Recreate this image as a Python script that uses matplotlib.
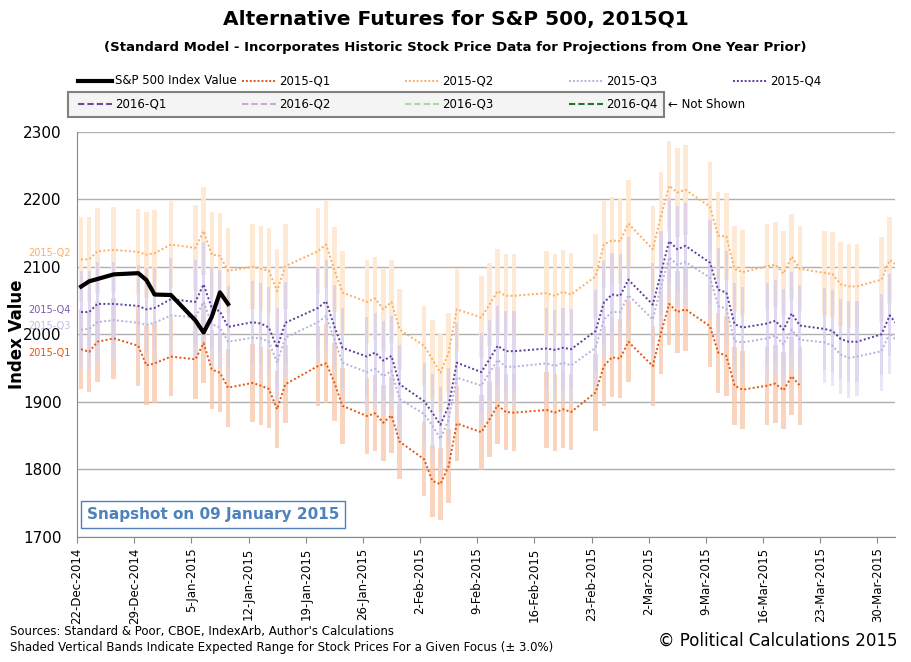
import datetime as dt
import matplotlib
matplotlib.use("Agg")
import matplotlib.pyplot as plt
import matplotlib.dates as mdates
from matplotlib.lines import Line2D
from matplotlib.patches import Rectangle

# =========================
# DATA
# =========================
trade_days = [
    "2014-12-22", "2014-12-23", "2014-12-24", "2014-12-26", "2014-12-29", "2014-12-30", "2014-12-31",
    "2015-01-02", "2015-01-05", "2015-01-06", "2015-01-07", "2015-01-08", "2015-01-09",
    "2015-01-12", "2015-01-13", "2015-01-14", "2015-01-15", "2015-01-16",
    "2015-01-20", "2015-01-21", "2015-01-22", "2015-01-23",
    "2015-01-26", "2015-01-27", "2015-01-28", "2015-01-29", "2015-01-30",
    "2015-02-02", "2015-02-03", "2015-02-04", "2015-02-05", "2015-02-06",
    "2015-02-09", "2015-02-10", "2015-02-11", "2015-02-12", "2015-02-13",
    "2015-02-17", "2015-02-18", "2015-02-19", "2015-02-20",
    "2015-02-23", "2015-02-24", "2015-02-25", "2015-02-26", "2015-02-27",
    "2015-03-02", "2015-03-03", "2015-03-04", "2015-03-05", "2015-03-06",
    "2015-03-09", "2015-03-10", "2015-03-11", "2015-03-12", "2015-03-13",
    "2015-03-16", "2015-03-17", "2015-03-18", "2015-03-19", "2015-03-20",
    "2015-03-23", "2015-03-24", "2015-03-25", "2015-03-26", "2015-03-27",
    "2015-03-30", "2015-03-31", "2015-04-01",
]

sp500 = [2070.65, 2078.54, 2081.88, 2088.77, 2090.57, 2080.35, 2058.90,
         2058.20, 2020.58, 2002.61, 2025.90, 2062.14, 2044.81]

q1 = [1978, 1974, 1989, 1994, 1983, 1954, 1957,
      1967, 1963, 1987, 1948, 1943, 1921,
      1928, 1924, 1919, 1889, 1926,
      1953, 1957, 1929, 1894,
      1879, 1883, 1869, 1880, 1841,
      1815, 1783, 1778, 1805, 1868,
      1855, 1874, 1895, 1885, 1884,
      1888, 1884, 1889, 1885,
      1914, 1953, 1966, 1964, 1989,
      1953, 2002, 2045, 2033, 2037,
      2012, 1973, 1968, 1924, 1918,
      1924, 1927, 1917, 1938, 1924]

q2 = [2111, 2111, 2123, 2125, 2122, 2118, 2120,
      2133, 2128, 2153, 2118, 2116, 2094,
      2100, 2097, 2094, 2064, 2101,
      2123, 2133, 2096, 2062,
      2048, 2053, 2037, 2048, 2007,
      1983, 1963, 1943, 1973, 2037,
      2025, 2044, 2064, 2057, 2057,
      2061, 2057, 2063, 2059,
      2086, 2133, 2139, 2138, 2164,
      2126, 2175, 2220, 2210, 2214,
      2189, 2146, 2145, 2097, 2092,
      2101, 2103, 2090, 2115, 2097,
      2091, 2089, 2074, 2071, 2071,
      2081, 2110, 2101]

q3 = [2007, 2008, 2018, 2021, 2017, 2014, 2017,
      2028, 2025, 2048, 2015, 2010, 1989,
      1995, 1994, 1989, 1958, 1995,
      2018, 2027, 1993, 1958,
      1944, 1949, 1938, 1946, 1904,
      1882, 1865, 1845, 1874, 1936,
      1924, 1943, 1962, 1952, 1952,
      1957, 1953, 1958, 1954,
      1980, 2022, 2033, 2033, 2058,
      2022, 2071, 2114, 2103, 2107,
      2084, 2042, 2038, 1990, 1988,
      1994, 1998, 1985, 2007, 1992,
      1988, 1983, 1970, 1965, 1967,
      1975, 2002, 1988]

q4 = [2033, 2033, 2045, 2045, 2042, 2037, 2039,
      2052, 2048, 2074, 2039, 2034, 2011,
      2018, 2016, 2010, 1980, 2017,
      2039, 2049, 2012, 1980,
      1967, 1973, 1961, 1968, 1926,
      1901, 1884, 1866, 1894, 1958,
      1944, 1963, 1983, 1975, 1975,
      1979, 1977, 1980, 1978,
      2005, 2047, 2059, 2057, 2081,
      2044, 2091, 2138, 2126, 2131,
      2106, 2066, 2062, 2015, 2010,
      2016, 2020, 2007, 2031, 2013,
      2008, 2005, 1993, 1989, 1989,
      2000, 2028, 2013]

band_pct = 0.03

tick_dates = ["2014-12-22", "2014-12-29", "2015-01-05", "2015-01-12", "2015-01-19",
              "2015-01-26", "2015-02-02", "2015-02-09", "2015-02-16", "2015-02-23",
              "2015-03-02", "2015-03-09", "2015-03-16", "2015-03-23", "2015-03-30"]

# =========================
# HELPERS
# =========================
def to_num(s):
    return mdates.date2num(dt.datetime.strptime(s, "%Y-%m-%d"))


def tick_label(s):
    d = dt.datetime.strptime(s, "%Y-%m-%d")
    return f"{d.day}-{d.strftime('%b-%Y')}"


W, H = 911, 662


def fx(px):
    return px / W


def fy(py):
    return 1 - py / H


x_all = [to_num(d) + 0.5 for d in trade_days]

# =========================
# PLOT
# =========================
fig = plt.figure(figsize=(9.11, 6.62), dpi=100)
ax = fig.add_axes([0.0845, 0.189, 0.8975, 0.612])

series = [
    (q2, "#fde8d2", 0.95, 0.55),
    (q1, "#f7c6a8", 0.75, 0.55),
    (q4, "#cfc5ea", 0.6, 0.38),
    (q3, "#dcd6f1", 0.6, 0.38),
]
for vals, col, alpha, w in series:
    xs = x_all[:len(vals)]
    lows = [v * (1 - band_pct) for v in vals]
    highs = [v * (1 + band_pct) for v in vals]
    ax.bar(xs, [h - l for h, l in zip(highs, lows)], bottom=lows, width=w,
           color=col, alpha=alpha, linewidth=0, zorder=1)

dot = (0, (1, 1.2))
ax.plot(x_all[:len(q2)], q2, ls=dot, color="#fdae61", lw=1.4, zorder=3)
ax.plot(x_all[:len(q3)], q3, ls=dot, color="#b8b0da", lw=1.4, zorder=3)
ax.plot(x_all[:len(q4)], q4, ls=dot, color="#5e3c99", lw=1.4, zorder=3)
ax.plot(x_all[:len(q1)], q1, ls=dot, color="#e6550d", lw=1.4, zorder=3)
ax.plot(x_all[:len(sp500)], sp500, color="black", lw=3, zorder=4)

ax.set_ylim(1700, 2300)
ax.set_yticks(range(1700, 2301, 100))
ax.set_xlim(to_num("2014-12-22"), to_num("2014-12-22") + 100.1)
ax.set_xticks([to_num(d) for d in tick_dates])
ax.set_xticklabels([tick_label(d) for d in tick_dates], rotation=90, fontsize=8.5)
ax.tick_params(axis="y", labelsize=11, length=0, pad=11)
ax.tick_params(axis="x", length=4, color="#888888")
ax.grid(axis="y", color="#b0b0b0", lw=1)
ax.set_axisbelow(True)
for side in ["top", "right"]:
    ax.spines[side].set_visible(False)
for side in ["left", "bottom"]:
    ax.spines[side].set_color("#888888")
ax.set_ylabel("Index Value", fontsize=12, fontweight="bold")
ax.yaxis.set_label_coords(-0.062, 0.5)

# series labels at the left edge
for txt, yv, col in [("2015-Q2", 2121, "#fdae61"), ("2015-Q4", 2036, "#7a5aad"),
                     ("2015-Q3", 2013, "#c4bde2"), ("2015-Q1", 1973, "#e6550d")]:
    ax.text(-0.008, yv, txt, transform=ax.get_yaxis_transform(), ha="right",
            va="center", fontsize=7, color=col)

ax.text(0.012, 0.055, "Snapshot on 09 January 2015", transform=ax.transAxes,
        fontsize=11, fontweight="bold", color="#4f81bd", va="center",
        bbox=dict(boxstyle="square,pad=0.4", fc="white", ec="#4f81bd", lw=1))

# titles
fig.text(0.5, fy(20), "Alternative Futures for S&P 500, 2015Q1", ha="center",
         va="center", fontsize=14.5, fontweight="bold")
fig.text(0.5, fy(48), "(Standard Model - Incorporates Historic Stock Price Data for Projections from One Year Prior)",
         ha="center", va="center", fontsize=9.5, fontweight="bold")

# legend, drawn by hand to keep the column spacing of the original
fig.add_artist(Rectangle((fx(68), fy(117)), fx(664 - 68), 25 / H, transform=fig.transFigure,
                         fc="#f4f4f4", ec="#808080", lw=1.5))
row1 = [("S&P 500 Index Value", "black", "-", 3),
        ("2015-Q1", "#e6550d", (0, (1, 1)), 1.4),
        ("2015-Q2", "#fdae61", (0, (1, 1)), 1.4),
        ("2015-Q3", "#b8b0da", (0, (1, 1)), 1.4),
        ("2015-Q4", "#5e3c99", (0, (1, 1)), 1.4)]
row2 = [("2016-Q1", "#7b3f9e", (0, (3, 1.5)), 1.5),
        ("2016-Q2", "#c9a9d8", (0, (3, 1.5)), 1.5),
        ("2016-Q3", "#a6dba0", (0, (3, 1.5)), 1.5),
        ("2016-Q4", "#1b7837", (0, (3, 1.5)), 1.5)]
starts = [78, 242, 405, 569, 733]
for row, ypx in [(row1, 81), (row2, 104)]:
    for (lab, col, ls, lw), x0 in zip(row, starts):
        fig.add_artist(Line2D([fx(x0), fx(x0 + 34)], [fy(ypx), fy(ypx)], transform=fig.transFigure,
                              color=col, ls=ls, lw=lw))
        fig.text(fx(x0 + 37), fy(ypx), lab, va="center", fontsize=8.5)
fig.text(fx(668), fy(104), "\u2190 Not Shown", va="center", fontsize=8.5)

# footer
fig.text(0.011, fy(631), "Sources: Standard & Poor, CBOE, IndexArb, Author's Calculations",
         fontsize=8.5, va="center")
fig.text(0.011, fy(648), "Shaded Vertical Bands Indicate Expected Range for Stock Prices For a Given Focus (\u00b1 3.0%)",
         fontsize=8.5, va="center")
fig.text(0.985, fy(641), "\u00a9 Political Calculations 2015", fontsize=12, ha="right", va="center")

fig.savefig("out.png", dpi=100)
